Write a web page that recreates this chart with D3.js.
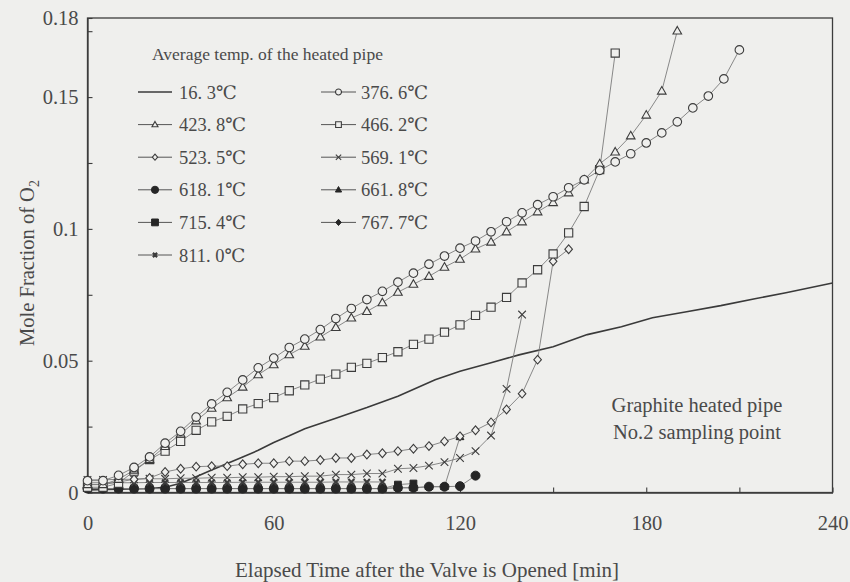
<!DOCTYPE html>
<html>
<head>
<meta charset="utf-8">
<script src="https://cdn.jsdelivr.net/npm/d3@7"></script>
<style>
  html, body { margin: 0; padding: 0; background: #efefed; }
  svg { display: block; }
  text { font-family: "Liberation Serif", "Times New Roman", "DejaVu Serif", serif; fill: #4a4a4a; }
</style>
</head>
<body>
<svg id="chart" width="850" height="582"></svg>
<script>
// Sampling times [min] after the valve is opened (every 5 min)
const minutes = [0, 5, 10, 15, 20, 25, 30, 35, 40, 45, 50, 55, 60, 65, 70, 75, 80, 85, 90, 95,
  100, 105, 110, 115, 120, 125, 130, 135, 140, 145, 150, 155, 160, 165, 170, 175, 180, 185,
  190, 195, 200, 205, 210];

// Mole fraction of O2 for each average pipe temperature
const o2_376_6 = [0.0045, 0.0045, 0.0065, 0.0095, 0.0135, 0.0187, 0.0232, 0.0286, 0.0336, 0.0380,
  0.0427, 0.0473, 0.0510, 0.0550, 0.0582, 0.0618, 0.0660, 0.0698, 0.0732, 0.0763,
  0.0798, 0.0832, 0.0866, 0.0897, 0.0927, 0.0954, 0.0989, 0.1027, 0.1061, 0.1092,
  0.1122, 0.1156, 0.1186, 0.1222, 0.1254, 0.1285, 0.1326, 0.1364, 0.1406, 0.1459,
  0.1504, 0.1569, 0.1679];
const o2_423_8 = [0.0030, 0.0030, 0.0050, 0.0085, 0.0125, 0.0175, 0.0222, 0.0272, 0.0320, 0.0360,
  0.0400, 0.0447, 0.0485, 0.0523, 0.0555, 0.0590, 0.0626, 0.0662, 0.0687, 0.0720,
  0.0760, 0.0790, 0.0820, 0.0855, 0.0885, 0.0924, 0.0950, 0.0989, 0.1027, 0.1065,
  0.1100, 0.1137, 0.1186, 0.1247, 0.1292, 0.1353, 0.1432, 0.1523, 0.1751];
const o2_466_2 = [0.0020, 0.0020, 0.0035, 0.0081, 0.0125, 0.0157, 0.0194, 0.0236, 0.0268, 0.0289,
  0.0317, 0.0337, 0.0360, 0.0386, 0.0408, 0.0430, 0.0449, 0.0475, 0.0490, 0.0512,
  0.0534, 0.0562, 0.0582, 0.0608, 0.0636, 0.0672, 0.0703, 0.0740, 0.0795, 0.0845,
  0.0905, 0.0985, 0.1085, 0.1225, 0.1667];
const o2_523_5 = [0.0030, 0.0030, 0.0040, 0.0050, 0.0055, 0.0078, 0.0090, 0.0098, 0.0100, 0.0100,
  0.0107, 0.0111, 0.0111, 0.0119, 0.0119, 0.0123, 0.0131, 0.0131, 0.0144, 0.0149,
  0.0157, 0.0166, 0.0176, 0.0194, 0.0213, 0.0236, 0.0266, 0.0315, 0.0375, 0.0504,
  0.0877, 0.0923];
const o2_569_1 = [0.0048, 0.0048, 0.0050, 0.0050, 0.0052, 0.0052, 0.0054, 0.0054, 0.0056, 0.0056,
  0.0058, 0.0058, 0.0060, 0.0060, 0.0062, 0.0062, 0.0068, 0.0068, 0.0072, 0.0072,
  0.0090, 0.0093, 0.0102, 0.0115, 0.0131, 0.0157, 0.0216, 0.0393, 0.0675];
const o2_618_1 = [0.0015, 0.0015, 0.0015, 0.0015, 0.0015, 0.0015, 0.0015, 0.0015, 0.0015, 0.0015,
  0.0015, 0.0015, 0.0015, 0.0015, 0.0015, 0.0015, 0.0015, 0.0015, 0.0015, 0.0015,
  0.0018, 0.0018, 0.0022, 0.0022, 0.0024, 0.0064];
const o2_661_8 = [0.0015, 0.0015, 0.0015, 0.0015, 0.0015, 0.0015, 0.0015, 0.0015, 0.0015, 0.0015,
  0.0015, 0.0015, 0.0015, 0.0015, 0.0015, 0.0015, 0.0015, 0.0015, 0.0015, 0.0015,
  0.0018, 0.0018, 0.0022, 0.0022, 0.0211];
const o2_715_4 = [0.0015, 0.0015, 0.0015, 0.0015, 0.0015, 0.0015, 0.0015, 0.0015, 0.0015, 0.0015,
  0.0015, 0.0015, 0.0015, 0.0015, 0.0015, 0.0015, 0.0015, 0.0015, 0.0015, 0.0015,
  0.0030, 0.0034];
const o2_767_7 = [0.0015, 0.0015, 0.0015, 0.0015, 0.0015, 0.0015, 0.0015, 0.0015, 0.0015, 0.0015,
  0.0015, 0.0015, 0.0015, 0.0015, 0.0015, 0.0015, 0.0015, 0.0015, 0.0015, 0.0015];
const o2_811_0 = [0.0037, 0.0037, 0.0037, 0.0037, 0.0038, 0.0038, 0.0038, 0.0038, 0.0038, 0.0038,
  0.0039, 0.0039, 0.0039, 0.0039, 0.0039, 0.0039, 0.0040, 0.0040, 0.0040, 0.0040];

// Unheated reference run (16.3 C), drawn as a plain line
const refMinutes = [0, 20, 25, 30, 35, 40, 45, 50, 55, 60, 65, 70, 80, 90, 100, 112, 120, 130,
  139, 150, 161, 172, 182, 193, 204, 215, 225, 240];
const refO2 = [0.0010, 0.0015, 0.0020, 0.0035, 0.0060, 0.0085, 0.0110, 0.0135, 0.0160, 0.0190,
  0.0215, 0.0242, 0.0282, 0.0322, 0.0365, 0.0428, 0.0460, 0.0492, 0.0522, 0.0553,
  0.0599, 0.0629, 0.0663, 0.0686, 0.0709, 0.0735, 0.0758, 0.0795];

// Axis ticks and labels
const xTicks = [0, 30, 60, 90, 120, 150, 180, 210, 240];
const xLabelled = [0, 60, 120, 180, 240];
const yTicks = [0, 0.025, 0.05, 0.075, 0.1, 0.125, 0.15, 0.175, 0.18];
const yLabelled = [0, 0.05, 0.1, 0.15, 0.18];

const legendTitle = "Average temp. of the heated pipe";
const tempLabels = ["16. 3℃", "376. 6℃", "423. 8℃", "466. 2℃", "523. 5℃", "569. 1℃",
  "618. 1℃", "661. 8℃", "715. 4℃", "767. 7℃", "811. 0℃"];

// ---------------------------------------------------------------------------
const svg = d3.select("#chart");
const plotLeft = 87.5, plotRight = 832.5, plotTop = 18, plotBottom = 492.5;
const x = d3.scaleLinear().domain([0, 240]).range([plotLeft, plotRight]);
const y = d3.scaleLinear().domain([0, 0.18]).range([plotBottom, plotTop]);

const INK = "#3c3c3c";
const BG = "#efefed";

// marker outlines centred on (0,0); s is the half-size in px
const shapePath = {
  circle: s => `M${s},0A${s},${s} 0 1,1 ${-s},0A${s},${s} 0 1,1 ${s},0Z`,
  triangle: s => `M0,${-s * 1.1}L${s * 1.05},${s * 0.75}L${-s * 1.05},${s * 0.75}Z`,
  square: s => `M${-s},${-s}H${s}V${s}H${-s}Z`,
  diamond: s => `M0,${-s * 1.15}L${s},0L0,${s * 1.15}L${-s},0Z`,
  cross: s => `M${-s},${-s}L${s},${s}M${s},${-s}L${-s},${s}`
};

// drawing order: the nearly-zero runs first, so the filled circles sit on top of them
const series = [
  { label: tempLabels[8], values: o2_715_4, shape: "square", size: 3.4, filled: true, sw: 1 },
  { label: tempLabels[7], values: o2_661_8, shape: "triangle", size: 3.7, filled: true, sw: 1 },
  { label: tempLabels[9], values: o2_767_7, shape: "diamond", size: 3.4, filled: true, sw: 1 },
  { label: tempLabels[6], values: o2_618_1, shape: "circle", size: 4.5, filled: true, sw: 1 },
  { label: tempLabels[10], values: o2_811_0, shape: "cross", size: 3.0, filled: false, sw: 2.2 },
  { label: tempLabels[5], values: o2_569_1, shape: "cross", size: 3.8, filled: false, sw: 1.1 },
  { label: tempLabels[4], values: o2_523_5, shape: "diamond", size: 3.8, filled: false, sw: 1.1 },
  { label: tempLabels[3], values: o2_466_2, shape: "square", size: 4.1, filled: false, sw: 1.1 },
  { label: tempLabels[2], values: o2_423_8, shape: "triangle", size: 4.1, filled: false, sw: 1.1 },
  { label: tempLabels[1], values: o2_376_6, shape: "circle", size: 4.3, filled: false, sw: 1.1 }
];
series.forEach(s => { s.points = s.values.map((v, i) => [minutes[i], v]); });
const byLabel = l => series.find(s => s.label === l);

const line = d3.line().x(d => x(d[0])).y(d => y(d[1]));

// frame
svg.append("rect")
  .attr("x", plotLeft).attr("y", plotTop)
  .attr("width", plotRight - plotLeft).attr("height", plotBottom - plotTop)
  .attr("fill", "none").attr("stroke", INK).attr("stroke-width", 1.3);

// axes with inward ticks
const fmt = d3.format("~g");
const xAxis = svg.append("g")
  .attr("transform", `translate(0,${plotBottom})`)
  .call(d3.axisBottom(x).tickValues(xTicks).tickSizeInner(-5).tickSizeOuter(0).tickPadding(23)
    .tickFormat(d => xLabelled.includes(d) ? fmt(d) : ""));
const yAxis = svg.append("g")
  .attr("transform", `translate(${plotLeft},0)`)
  .call(d3.axisLeft(y).tickValues(yTicks).tickSizeInner(-5).tickSizeOuter(0).tickPadding(9)
    .tickFormat(d => yLabelled.includes(d) ? fmt(d) : ""));
[xAxis, yAxis].forEach(g => {
  g.select(".domain").attr("stroke", INK).attr("stroke-width", 1.3);
  g.selectAll(".tick line").attr("stroke", INK).attr("stroke-width", 1.1);
  g.selectAll(".tick text")
    .attr("font-family", "Liberation Serif, serif")
    .attr("font-size", 20.5).attr("fill", "#4a4a4a");
});

// axis titles
svg.append("text")
  .attr("x", 427).attr("y", 577)
  .attr("text-anchor", "middle").attr("font-size", 21)
  .text("Elapsed Time after the Valve is Opened [min]");

const yTitle = svg.append("text")
  .attr("transform", "translate(34,263) rotate(-90)")
  .attr("text-anchor", "middle").attr("font-size", 20.5);
yTitle.append("tspan").text("Mole Fraction of O");
yTitle.append("tspan").attr("font-size", 14).attr("dy", 5).text("2");

// reference line (16.3 C)
svg.append("path")
  .datum(refMinutes.map((t, i) => [t, refO2[i]]))
  .attr("d", line)
  .attr("fill", "none").attr("stroke", "#3a3a3a").attr("stroke-width", 1.6);

// connecting lines
svg.append("g").selectAll("path")
  .data(series)
  .join("path")
  .attr("d", s => line(s.points))
  .attr("fill", "none").attr("stroke", "#7c7c7c").attr("stroke-width", 0.9);

// markers
function drawMarker(sel, s, scale) {
  sel.attr("d", shapePath[s.shape](s.size * scale))
    .attr("fill", s.shape === "cross" ? "none" : (s.filled ? "#262626" : BG))
    .attr("stroke", s.filled ? "#262626" : INK)
    .attr("stroke-width", s.sw);
}
series.forEach(s => {
  svg.append("g").selectAll("path")
    .data(s.points)
    .join("path")
    .attr("transform", d => `translate(${x(d[0])},${y(d[1])})`)
    .call(sel => drawMarker(sel, s, 1));
});

// legend
const legend = svg.append("g");
legend.append("text")
  .attr("x", 152).attr("y", 60).attr("font-size", 17.5)
  .text(legendTitle);

const rowGap = 32.6, row0 = 92;
const legendCols = [
  { lineX: [138, 172], text: 179, labels: [tempLabels[0], tempLabels[2], tempLabels[4], tempLabels[6], tempLabels[8], tempLabels[10]] },
  { lineX: [321, 356], text: 361, labels: [tempLabels[1], tempLabels[3], tempLabels[5], tempLabels[7], tempLabels[9]] }
];
legendCols.forEach(col => {
  col.labels.forEach((label, i) => {
    const s = byLabel(label);
    const cy = row0 + i * rowGap;
    const g = legend.append("g");
    g.append("line")
      .attr("x1", col.lineX[0]).attr("x2", col.lineX[1])
      .attr("y1", cy).attr("y2", cy)
      .attr("stroke", s ? "#555" : "#3a3a3a").attr("stroke-width", s ? 1 : 1.5);
    if (s) {
      const k = s.filled ? (s.shape === "square" ? 1.0 : 0.8) : 0.7;
      g.append("path")
        .attr("transform", `translate(${(col.lineX[0] + col.lineX[1]) / 2},${cy})`)
        .call(sel => drawMarker(sel, s, k));
    }
    g.append("text")
      .attr("x", col.text).attr("y", cy + 6.5).attr("font-size", 18.5)
      .text(label);
  });
});

// annotation
const note = svg.append("g").attr("font-size", 20.5).attr("text-anchor", "middle");
note.append("text").attr("x", 697).attr("y", 412).text("Graphite heated pipe");
note.append("text").attr("x", 697).attr("y", 439).text("No.2 sampling point");
</script>
</body>
</html>
